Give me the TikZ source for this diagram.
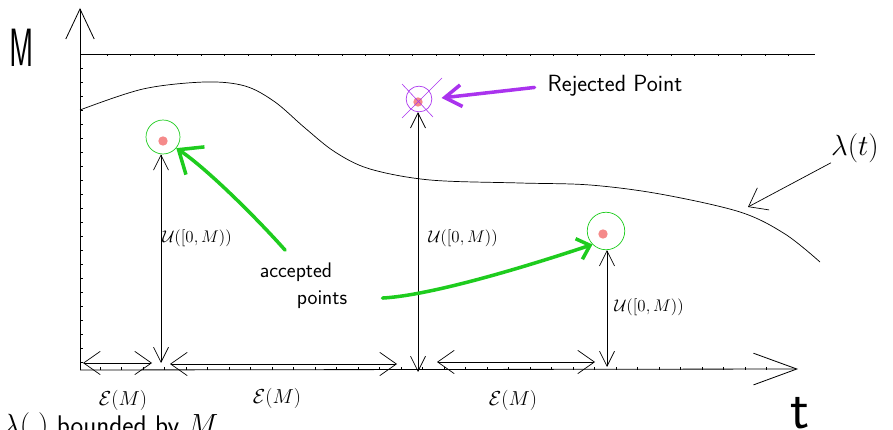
\documentclass[tikz,border=0pt]{standalone}
\usepackage{graphicx}
\usetikzlibrary{arrows.meta}
\definecolor{SketchGreen}{HTML}{1ECC1E}
\definecolor{SketchPurple}{HTML}{AA33EE}
\definecolor{SketchSalmon}{HTML}{F58A8A}
\tikzset{axisline/.style={draw=black,line width=0.7pt},
tickmark/.style={draw=black,line width=0.4pt},
hand/.style={inner sep=0pt,font=\sffamily\fontsize{#1}{#1}\selectfont},
sample/.style={circle,fill=SketchSalmon,inner sep=0pt,minimum size=8pt},
keepring/.style={circle,draw=SketchGreen,line width=0.6pt,inner sep=0pt,minimum size=#1},
dropring/.style={circle,draw=SketchPurple,line width=0.6pt,inner sep=0pt,minimum size=22pt},
gap/.style={{Straight Barb[length=5mm,width=7mm]}-{Straight Barb[length=5mm,width=7mm]},line width=0.6pt},
rise/.style={{Straight Barb[length=4.5mm,width=4.5mm]}-{Straight Barb[length=4.5mm,width=4.5mm]},line width=0.6pt},
pointer/.style={line width=3pt,line cap=round}}
\begin{document}
\begin{tikzpicture}[x=0.03cm,y=-0.03cm]
\useasboundingbox (0,0) rectangle (893,430);
% axes and the bound M
\coordinate (origin) at (80,370);
\coordinate (ytop) at (80,8);
\coordinate (xend) at (798,369);
\coordinate (capl) at (80,54);
\coordinate (capr) at (815,54);
\draw[axisline,-{Straight Barb[length=9mm,width=8.5mm]}] (origin) -- (ytop);
\draw[axisline,-{Straight Barb[length=13mm,width=9.5mm]}] (origin) -- (xend);
\draw[axisline] (capl) -- (capr);
\foreach \i in {0,...,29} \draw[tickmark] (107+23.5*\i,54) -- +(0,2.5);
\foreach \i in {0,...,21} \draw[tickmark] (80,68+14*\i) -- +(2.5,0);
\foreach \i in {0,...,31} \draw[tickmark] (100+21.5*\i,370) -- +(0,-2.5);
\node[hand=46] (mlab) at (22,48) {\scalebox{0.55}[1]{M}};
\node[hand=48,anchor=base] (tlab) at (800,428) {t};
% intensity
\draw[line width=0.6pt] plot[smooth,tension=0.55] coordinates {(80,110) (143,89) (205,82) (245,86) (275,102) (305,128) (335,152) (370,169) (430,180) (520,183) (590,185) (660,194) (740,212) (785,234) (820,262)};
\node[hand=36] (lamlab) at (855,148) {$\lambda(t)$};
\coordinate (lamtip) at (748,207);
\draw[line width=0.6pt,-{Straight Barb[length=5mm,width=7.5mm]}] (lamlab.south west) -- (lamtip);
% sampled points
\node[sample] (s1) at (163,141) {};
\node[keepring=29pt] (k1) at (163,137) {};
\node[sample] (s2) at (418,102) {};
\node[dropring] (r2) at (419,99) {};
\draw[SketchPurple,line width=0.5pt] ([shift={(-17,-15)}]r2.center) -- ([shift={(14,18)}]r2.center);
\draw[SketchPurple,line width=0.5pt] ([shift={(23,-21)}]r2.center) -- ([shift={(-17,19)}]r2.center);
\node[sample] (s3) at (603,234) {};
\node[keepring=32pt] (k3) at (606,231) {};
% heights
\coordinate (u1) at (161,363);
\coordinate (u2) at (418,372);
\coordinate (u3) at (607,367);
\draw[rise] (u1) -- (u1 |- k1.south);
\draw[rise] (u2) -- (u2 |- r2.south);
\draw[rise] (u3) -- (u3 |- k3.south);
\node[hand=14] (unif1) at (197,238) {$\mathcal{U}([0,M))$};
\node[hand=14] (unif2) at (463,238) {$\mathcal{U}([0,M))$};
\node[hand=14] (unif3) at (649,307) {$\mathcal{U}([0,M))$};
% exponential gaps
\coordinate (e0) at (83,363);
\coordinate (e1) at (152,363);
\coordinate (e2) at (170,364);
\coordinate (e3) at (397,364);
\coordinate (e4) at (437,362);
\coordinate (e5) at (595,362);
\draw[gap] (e0) -- (e1);
\draw[gap] (e2) -- (e3);
\draw[gap] (e4) -- (e5);
\node[hand=17] (exp1) at (123,400) {$\mathcal{E}(M)$};
\node[hand=17] (exp2) at (277,398) {$\mathcal{E}(M)$};
\node[hand=17] (exp3) at (513,400) {$\mathcal{E}(M)$};
% annotations
\node[hand=20] (rejtext) at (615,86) {Rejected Point};
\draw[pointer,SketchPurple,-{Straight Barb[length=5mm,width=6.5mm]},shorten <=11pt,shorten >=8pt] (rejtext.west) -- (r2.east);
\node[hand=18] (acc) at (296,272) {accepted};
\node[hand=18] (pts) at (322,300) {points};
\draw[pointer,SketchGreen,-{Straight Barb[length=6mm,width=10mm]},shorten <=14pt] (acc.north) .. controls +(-40,-45) and +(30,20) .. (k1.-40);
\draw[pointer,SketchGreen,-{Straight Barb[length=3.5mm,width=6.5mm]},shorten <=30pt] (pts.east) .. controls +(90,-5) and +(-45,15) .. (k3.-135);
\node[hand=23,anchor=base west] (bound) at (3,434) {$\lambda(.)$ bounded by $M$};
\end{tikzpicture}
\end{document}
